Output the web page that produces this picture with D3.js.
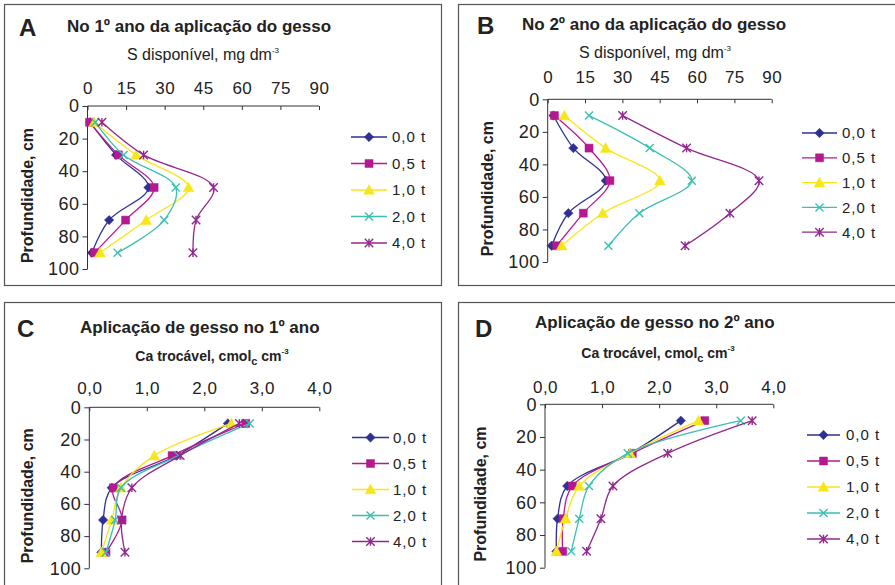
<!DOCTYPE html>
<html>
<head>
  <meta charset="utf-8">
  <title>Gesso - perfis de S e Ca</title>
  <script src="https://d3js.org/d3.v7.min.js"></script>
  <style>
    body { margin: 0; background: #fff; }
    svg { display: block; font-family: "Liberation Sans", Arial, sans-serif; }
  </style>
</head>
<body>
  <svg id="chart"></svg>

  <script>
    // profundidades (cm) e doses de gesso
    const depths = [10, 30, 50, 70, 90];
    const doses = ['0,0 t', '0,5 t', '1,0 t', '2,0 t', '4,0 t'];

    // S disponivel, 1o ano (A)
    const sYear1 = [
      [1.0, 11.1, 23.7, 8.4, 1.7],
      [0.8, 12.0, 25.9, 14.8, 2.7],
      [2.6, 18.9, 39.3, 22.8, 4.9],
      [3.0, 14.0, 34.3, 29.8, 11.7],
      [5.6, 21.8, 49.0, 42.2, 41.0]
    ];
    // S disponivel, 2o ano (B)
    const sYear2 = [
      [2.3, 10.3, 23.3, 8.3, 1.6],
      [2.7, 16.6, 25.0, 14.3, 3.6],
      [6.7, 23.3, 45.1, 22.1, 5.6],
      [16.6, 41.0, 57.9, 36.8, 24.4],
      [30.1, 55.8, 84.9, 73.2, 55.2]
    ];
    // Ca trocavel, gesso no 1o ano (C)
    const caYear1 = [
      [2.41, 1.52, 0.39, 0.24, 0.21],
      [2.72, 1.44, 0.42, 0.57, 0.29],
      [2.47, 1.13, 0.55, 0.39, 0.21],
      [2.79, 1.55, 0.55, 0.45, 0.29],
      [2.61, 1.58, 0.74, 0.56, 0.62]
    ];
    // Ca trocavel, gesso no 2o ano (D)
    const caYear2 = [
      [2.38, 1.50, 0.39, 0.22, 0.20],
      [2.80, 1.53, 0.48, 0.32, 0.31],
      [2.69, 1.49, 0.60, 0.36, 0.20],
      [3.43, 1.45, 0.77, 0.60, 0.46],
      [3.63, 2.15, 1.19, 0.98, 0.73]
    ];

    const sTicks = [0, 15, 30, 45, 60, 75, 90];
    const caTicks = [0, 1, 2, 3, 4];
    const depthTicks = [0, 20, 40, 60, 80, 100];

    const colors = ['#2e3192', '#b5198f', '#f7e61a', '#3bbfb2', '#92278f'];

    // marcadores tipo Excel
    const mDiamond = { draw(c, s) { const r = Math.sqrt(s) / 2 * 1.25; c.moveTo(0, -r); c.lineTo(r, 0); c.lineTo(0, r); c.lineTo(-r, 0); c.closePath(); } };
    const mSquare = { draw(c, s) { const r = Math.sqrt(s) / 2; c.rect(-r, -r, 2 * r, 2 * r); } };
    const mTriangle = { draw(c, s) { const r = Math.sqrt(s) / 2 * 1.2; c.moveTo(0, -r); c.lineTo(r, r * 0.8); c.lineTo(-r, r * 0.8); c.closePath(); } };
    const mX = { draw(c, s) { const r = Math.sqrt(s) / 2; c.moveTo(-r, -r); c.lineTo(r, r); c.moveTo(-r, r); c.lineTo(r, -r); } };
    const mStar = { draw(c, s) { const r = Math.sqrt(s) / 2; c.moveTo(-r, -r); c.lineTo(r, r); c.moveTo(-r, r); c.lineTo(r, -r); c.moveTo(0, -r); c.lineTo(0, r); } };
    const markers = [
      { type: mDiamond, size: 56, filled: true },
      { type: mSquare, size: 64, filled: true },
      { type: mTriangle, size: 80, filled: true },
      { type: mX, size: 64, filled: false },
      { type: mStar, size: 72, filled: false }
    ];

    const svg = d3.select('#chart').attr('width', 895).attr('height', 585);
    svg.append('rect').attr('width', 895).attr('height', 585).attr('fill', '#fff');

    // molduras
    const frames = [[4, 4, 437, 281], [458, 4, 445, 281], [4, 302, 437, 300], [458, 302, 445, 300]];
    svg.selectAll('.frame').data(frames).enter().append('rect')
      .attr('class', 'frame')
      .attr('x', d => d[0] + 0.5).attr('y', d => d[1] + 0.5)
      .attr('width', d => d[2]).attr('height', d => d[3])
      .attr('fill', 'none').attr('stroke', '#555').attr('stroke-width', 1.2);

    function drawPanel(p) {
      const g = svg.append('g');
      const x = d3.scaleLinear().domain(p.xDomain).range([p.x0, p.x1]);
      const y = d3.scaleLinear().domain([0, 100]).range([p.y0, p.y1]);

      // letra e titulo
      g.append('text').attr('x', p.letterX).attr('y', p.letterY)
        .attr('font-size', 24).attr('font-weight', 'bold').attr('fill', '#222').text(p.letter);
      g.append('text').attr('x', p.titleX).attr('y', p.titleY)
        .attr('font-size', 17).attr('font-weight', 'bold').attr('fill', '#222').text(p.title);

      // subtitulo do eixo x
      const sub = g.append('text').attr('x', p.subX).attr('y', p.subY)
        .attr('text-anchor', 'middle').attr('font-size', p.subSize)
        .attr('font-weight', p.subBold ? 'bold' : 'normal').attr('fill', '#222');
      p.subParts.forEach(part => {
        const t = sub.append('tspan').text(part.t);
        if (part.sup) t.attr('font-size', 8).attr('dy', -7);
        if (part.subs) t.attr('font-size', 11).attr('dy', 4);
        if (part.reset) t.attr('dy', part.reset);
      });

      // eixo x no topo
      const xAxis = d3.axisBottom(x).tickValues(p.xTicks).tickSize(4).tickFormat(p.xFormat);
      const gx = g.append('g').attr('transform', `translate(0,${p.y0})`).call(xAxis);
      gx.select('.domain').attr('stroke', '#333').attr('d', `M${p.x0},0H${p.x1}`);
      gx.selectAll('.tick line').attr('stroke', '#333');
      gx.selectAll('.tick text').attr('y', p.xLabelY - p.y0).attr('dy', 0)
        .attr('font-size', 17).attr('fill', '#222').attr('font-family', '"Liberation Sans", Arial, sans-serif')
        .attr('letter-spacing', 0.5);

      // eixo y (profundidade)
      const yAxis = d3.axisLeft(y).tickValues(depthTicks).tickSize(5).tickPadding(3);
      const gy = g.append('g').attr('transform', `translate(${p.x0},0)`).call(yAxis);
      gy.select('.domain').attr('stroke', '#333').attr('d', `M0,${p.y0}V${p.y1}`);
      gy.selectAll('.tick line').attr('stroke', '#333');
      gy.selectAll('.tick text').attr('font-size', 18).attr('fill', '#222')
        .attr('font-family', '"Liberation Sans", Arial, sans-serif').attr('letter-spacing', 0.5);

      g.append('text')
        .attr('transform', `translate(${p.yTitleX},${(p.y0 + p.y1) / 2 + 8}) rotate(-90)`)
        .attr('text-anchor', 'middle').attr('dy', '0.35em')
        .attr('font-size', 16).attr('font-weight', 'bold').attr('fill', '#222')
        .text('Profundidade, cm');

      // series
      const line = d3.line()
        .x(d => x(d.v)).y(d => y(d.depth))
        .curve(d3.curveCatmullRom.alpha(0.5));

      p.values.forEach((vals, i) => {
        const pts = vals.map((v, j) => ({ v: v, depth: depths[j] }));
        g.append('path').datum(pts).attr('d', line)
          .attr('fill', 'none').attr('stroke', colors[i]).attr('stroke-width', 1.3);
        const m = markers[i];
        const sym = d3.symbol().type(m.type).size(m.size);
        g.selectAll(null).data(pts).enter().append('path')
          .attr('transform', d => `translate(${x(d.v)},${y(d.depth)})`)
          .attr('d', sym)
          .attr('fill', m.filled ? colors[i] : 'none')
          .attr('stroke', colors[i]).attr('stroke-width', m.filled ? 0.5 : 1.4);
      });

      // legenda
      const lg = g.append('g');
      doses.forEach((name, i) => {
        const ly = p.legY + i * p.legStep;
        lg.append('line').attr('x1', p.legX0).attr('x2', p.legX1)
          .attr('y1', ly).attr('y2', ly).attr('stroke', colors[i]).attr('stroke-width', 1.3);
        const m = markers[i];
        lg.append('path').attr('transform', `translate(${(p.legX0 + p.legX1) / 2},${ly})`)
          .attr('d', d3.symbol().type(m.type).size(m.size)())
          .attr('fill', m.filled ? colors[i] : 'none')
          .attr('stroke', colors[i]).attr('stroke-width', m.filled ? 0.5 : 1.4);
        lg.append('text').attr('x', p.legText).attr('y', ly).attr('dy', '0.36em')
          .attr('font-size', 15).attr('letter-spacing', 1).attr('fill', '#222').text(name);
      });
    }

    const sSub = [{ t: 'S disponível, mg dm' }, { t: '-3', sup: true }];
    const caSub = [{ t: 'Ca trocável, cmol' }, { t: 'c', subs: true }, { t: ' cm', reset: -4 }, { t: '-3', sup: true }];
    const fmtS = d3.format('d');
    const fmtCa = d => d.toFixed(1).replace('.', ',');

    drawPanel({
      letter: 'A', letterX: 19, letterY: 36, title: 'No 1º ano da aplicação do gesso', titleX: 67, titleY: 32,
      subParts: sSub, subX: 203, subY: 60, subSize: 16, subBold: false,
      x0: 87.5, x1: 319, y0: 106, y1: 269, xDomain: [0, 90], xTicks: sTicks, xFormat: fmtS, xLabelY: 94,
      yTitleX: 27, values: sYear1,
      legX0: 351, legX1: 387, legText: 392, legY: 137, legStep: 26.5
    });
    drawPanel({
      letter: 'B', letterX: 477, letterY: 34, title: 'No 2º ano da aplicação do gesso', titleX: 522, titleY: 30,
      subParts: sSub, subX: 655, subY: 58, subSize: 16, subBold: false,
      x0: 547.7, x1: 771.7, y0: 99.3, y1: 262, xDomain: [0, 90], xTicks: sTicks, xFormat: fmtS, xLabelY: 83,
      yTitleX: 487, values: sYear2,
      legX0: 802, legX1: 837, legText: 842, legY: 133, legStep: 24.8
    });
    drawPanel({
      letter: 'C', letterX: 17, letterY: 337, title: 'Aplicação de gesso no 1º ano', titleX: 80, titleY: 333,
      subParts: caSub, subX: 212, subY: 361, subSize: 14, subBold: true,
      x0: 89.3, x1: 319.3, y0: 407.3, y1: 568.3, xDomain: [0, 4], xTicks: caTicks, xFormat: fmtCa, xLabelY: 394,
      yTitleX: 27, values: caYear1,
      legX0: 352, legX1: 389, legText: 393, legY: 437.5, legStep: 26
    });
    drawPanel({
      letter: 'D', letterX: 475, letterY: 337, title: 'Aplicação de gesso no 2º ano', titleX: 535, titleY: 328,
      subParts: caSub, subX: 658, subY: 358, subSize: 14, subBold: true,
      x0: 545, x1: 773.3, y0: 404.3, y1: 567.7, xDomain: [0, 4], xTicks: caTicks, xFormat: fmtCa, xLabelY: 393,
      yTitleX: 480, values: caYear2,
      legX0: 807, legX1: 840, legText: 846, legY: 435, legStep: 26
    });
  </script>
</body>
</html>
